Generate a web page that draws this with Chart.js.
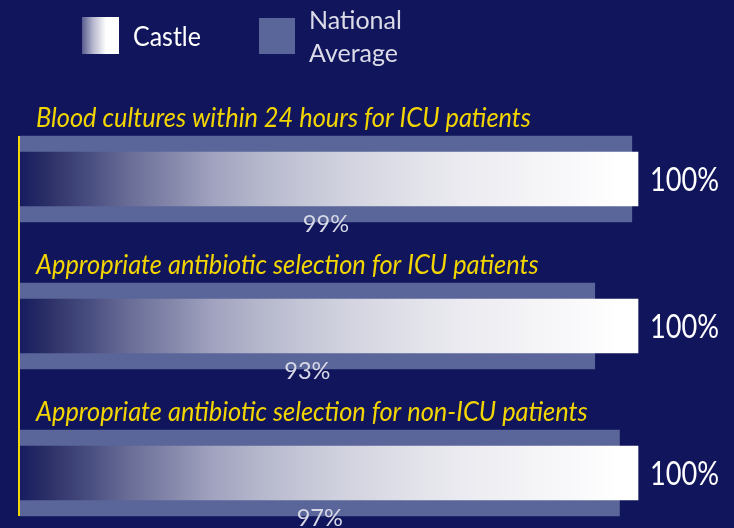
<!DOCTYPE html>
<html><head><meta charset="utf-8">
<script src="https://cdn.jsdelivr.net/npm/chart.js@4"></script>
<style>html,body{margin:0;padding:0;background:#11165c;overflow:hidden}canvas{display:block}</style>
</head><body>
<canvas id="c" width="734" height="528"></canvas>
<script>
// ---- data ----
const categories = [
  "Blood cultures within 24 hours for ICU patients",
  "Appropriate antibiotic selection for ICU patients",
  "Appropriate antibiotic selection for non-ICU patients"
];
const seriesNames = ["Castle", "National Average"];
const castleValues = [100, 100, 100];
const nationalValues = [99, 93, 97];
const xMin = 0, xMax = 100;

// ---- styles ----
const BG = '#11165c', NAT = '#5a6599', YEL = '#f3d500';
const FONT = 'Lato, "Open Sans", sans-serif';

function castleGradient(ctx, x0, x1) {
  const g = ctx.createLinearGradient(x0, 0, x1, 0);
  g.addColorStop(0.00, '#171c60');
  g.addColorStop(0.05, '#2e3268');
  g.addColorStop(0.117, '#4b5082');
  g.addColorStop(0.18, '#6b6f98');
  g.addColorStop(0.25, '#8689ab');
  g.addColorStop(0.31, '#a0a2bf');
  g.addColorStop(0.38, '#b3b5cb');
  g.addColorStop(0.45, '#c3c4d5');
  g.addColorStop(0.51, '#cfd0dd');
  g.addColorStop(0.58, '#d9dae4');
  g.addColorStop(0.64, '#e2e2ea');
  g.addColorStop(0.71, '#eaeaf0');
  g.addColorStop(0.78, '#f0f0f4');
  g.addColorStop(0.84, '#f5f5f8');
  g.addColorStop(0.91, '#fafafc');
  g.addColorStop(0.97, '#ffffff');
  g.addColorStop(1.00, '#ffffff');
  return g;
}

function drawText(ctx, t, x, y, font, color, sx, align, baseline) {
  ctx.save();
  ctx.translate(x, y);
  ctx.scale(sx, 1);
  ctx.font = font;
  ctx.fillStyle = color;
  ctx.textAlign = align;
  ctx.textBaseline = baseline;
  ctx.fillText(t, 0, 0);
  ctx.restore();
}

const decor = {
  id: 'decor',
  beforeDraw(chart) {
    const ctx = chart.ctx;
    ctx.save();
    ctx.fillStyle = BG;
    ctx.fillRect(0, 0, chart.width, chart.height);
    ctx.restore();
  },
  afterDatasetsDraw(chart) {
    const ctx = chart.ctx, xs = chart.scales.x, ys = chart.scales.y;
    const x0 = xs.getPixelForValue(xMin);
    const cas = chart.getDatasetMeta(0).data;
    const nat = chart.getDatasetMeta(1).data;
    // yellow axis line
    const top = nat[0].y - nat[0].height / 2;
    const bot = nat[nat.length - 1].y + nat[nat.length - 1].height / 2;
    ctx.save();
    ctx.fillStyle = YEL;
    ctx.fillRect(x0 - 2, top, 2, bot - top);
    ctx.restore();
    // category titles
    categories.forEach((c, i) => {
      const y = ys.getPixelForValue(i);
      drawText(ctx, c, x0 + 16, y - 52, 'italic 27px ' + FONT, YEL, 0.94, 'left', 'alphabetic');
    });
    // value labels
    cas.forEach((b, i) => {
      drawText(ctx, castleValues[i] + '%', b.x + 12, b.y + 12, '32px ' + FONT, '#ffffff', 0.85, 'left', 'alphabetic');
    });
    nat.forEach((b, i) => {
      drawText(ctx, nationalValues[i] + '%', (b.base + b.x) / 2, b.y + b.height / 2 + 10, '24px ' + FONT, '#d6d8e6', 0.98, 'center', 'alphabetic');
    });
    // legend
    ctx.save();
    const lg = ctx.createLinearGradient(82, 0, 119, 0);
    lg.addColorStop(0, '#585b8d');
    lg.addColorStop(0.3, '#b6b7cd');
    lg.addColorStop(0.65, '#ffffff');
    lg.addColorStop(1, '#ffffff');
    ctx.fillStyle = lg;
    ctx.fillRect(82, 17, 37, 37);
    ctx.fillStyle = NAT;
    ctx.fillRect(259, 18, 36, 36);
    ctx.restore();
    drawText(ctx, seriesNames[0], 133, 46, '26px ' + FONT, '#ffffff', 0.96, 'left', 'alphabetic');
    const natWords = seriesNames[1].split(' ');
    drawText(ctx, natWords[0], 309, 29, '25px ' + FONT, '#dcdce8', 1.0, 'left', 'alphabetic');
    drawText(ctx, natWords[1], 309, 62, '25px ' + FONT, '#dcdce8', 1.0, 'left', 'alphabetic');
  }
};

new Chart(document.getElementById('c'), {
  type: 'bar',
  data: {
    labels: categories,
    datasets: [
      {
        label: seriesNames[0],
        data: castleValues,
        barThickness: 54,
        borderWidth: 0,
        clip: false,
        backgroundColor: (c) => {
          const ch = c.chart;
          if (!ch.chartArea) return '#ffffff';
          const xs = ch.scales.x;
          return castleGradient(ch.ctx, xs.getPixelForValue(xMin), xs.getPixelForValue(xMax));
        }
      },
      {
        label: seriesNames[1],
        data: nationalValues,
        barThickness: 86,
        borderWidth: 0,
        clip: false,
        backgroundColor: NAT
      }
    ]
  },
  options: {
    indexAxis: 'y',
    responsive: false,
    devicePixelRatio: 1,
    animation: false,
    layout: { padding: { left: 20, right: 96, top: 179, bottom: 55 } },
    datasets: { bar: { grouped: false } },
    scales: {
      x: { display: false, min: xMin, max: xMax },
      y: { display: false, offset: false }
    },
    plugins: { legend: { display: false }, tooltip: { enabled: false } }
  },
  plugins: [decor]
});
</script>
</body></html>
